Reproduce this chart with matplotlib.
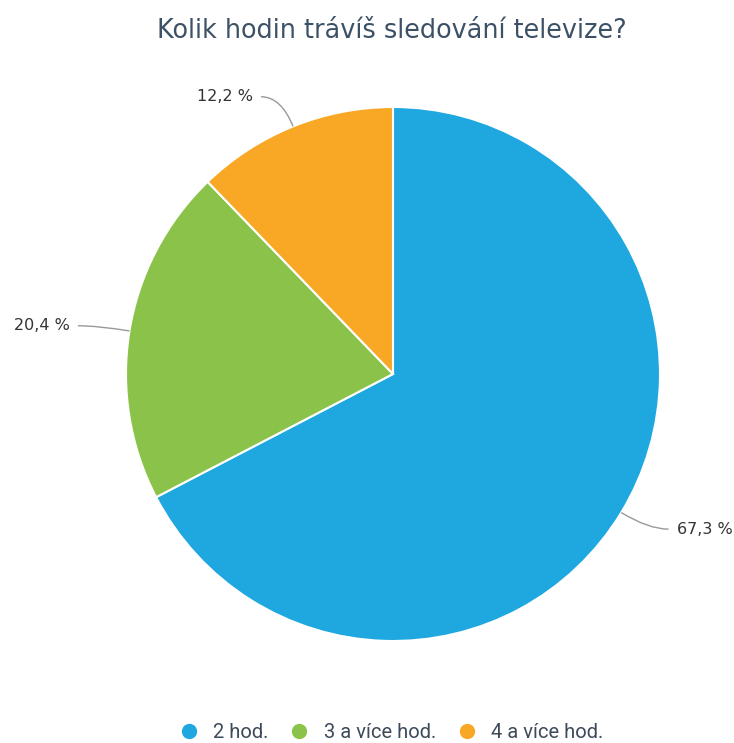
"""Pie chart: hours spent watching TV."""

import matplotlib

matplotlib.use("Agg")
import matplotlib.pyplot as plt  # noqa: E402
import numpy as np  # noqa: E402
from matplotlib.lines import Line2D  # noqa: E402
from matplotlib.path import Path  # noqa: E402
from matplotlib.patches import PathPatch  # noqa: E402

TITLE = "Kolik hodin trávíš sledování televize?"
categories = ["2 hod.", "3 a více hod.", "4 a více hod."]
shares = [67.3, 20.4, 12.2]
colors = ["#1fa8e0", "#8bc34a", "#f9a825"]

W, H = 734, 743
CX, CY, R = 393, H - 374, 267

fig = plt.figure(figsize=(W / 100, H / 100), dpi=100)
ax = fig.add_axes([0, 0, 1, 1])

wedges, _ = ax.pie(
    shares,
    colors=colors,
    startangle=90,
    counterclock=False,
    center=(CX, CY),
    radius=R,
    wedgeprops=dict(edgecolor="white", linewidth=1.5),
    frame=True,
)
ax.set_xlim(0, W)
ax.set_ylim(0, H)
ax.set_aspect("equal")
ax.axis("off")

# data labels with curved connectors
for w, val in zip(wedges, shares):
    mid = np.deg2rad((w.theta1 + w.theta2) / 2)
    c, s = np.cos(mid), np.sin(mid)
    p0 = (CX + R * c, CY + R * s)
    p1 = (CX + (R + 32) * c, CY + (R + 32) * s)
    side = 1 if c >= 0 else -1
    p2 = (p1[0] + side * 20, p1[1])
    path = Path([p0, p1, p2], [Path.MOVETO, Path.CURVE3, Path.CURVE3])
    ax.add_patch(PathPatch(path, fill=False, edgecolor="#999999", lw=1.0))
    ax.text(p2[0] + side * 8, p2[1], f"{val:.1f} %".replace(".", ","),
            ha="left" if side > 0 else "right", va="center",
            fontsize=11.5, color="#333333", family="DejaVu Sans")

fig.text(392 / W, 1 - 31 / H, TITLE, ha="center", va="center",
         fontsize=18.4, color="#3d5166", family="DejaVu Sans")

handles = [Line2D([], [], marker="o", linestyle="none", markersize=10,
                  markerfacecolor=c, markeredgecolor=c) for c in colors]
fig.legend(handles, categories, loc="center", bbox_to_anchor=(386 / W, 1 - 733 / H),
           ncol=3, frameon=False, handletextpad=0.2, columnspacing=0.55,
           prop=dict(family="Roboto", size=14.5), labelcolor="#3d4a5a")

fig.savefig("out.png", dpi=100)
